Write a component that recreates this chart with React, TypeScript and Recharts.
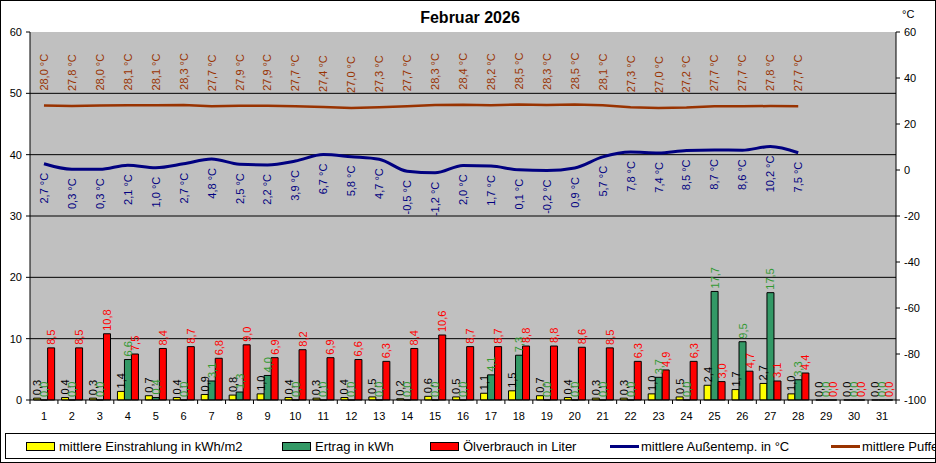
import React from "react";
import { ComposedChart, Bar, Line, XAxis, YAxis, CartesianGrid, LabelList } from "recharts";

const days = ["1", "2", "3", "4", "5", "6", "7", "8", "9", "10", "11", "12", "13", "14", "15", "16", "17", "18", "19", "20", "21", "22", "23", "24", "25", "26", "27", "28", "29", "30", "31"];

const einstrahlung = [0.3, 0.4, 0.3, 1.4, 0.7, 0.4, 0.9, 0.8, 1.0, 0.4, 0.3, 0.4, 0.5, 0.2, 0.6, 0.5, 1.1, 1.5, 0.7, 0.4, 0.3, 0.3, 1.0, 0.5, 2.4, 1.7, 2.7, 1.0, 0.0, 0.0, 0.0];
const ertrag = [0.0, 0.0, 0.0, 6.6, 0.4, 0.0, 3.1, 1.3, 4.0, 0.0, 0.0, 0.0, 0.0, 0.0, 0.0, 0.0, 4.1, 7.3, 0.0, 0.0, 0.0, 0.0, 3.7, 0.0, 17.7, 9.5, 17.5, 3.3, 0.0, 0.0, 0.0];
const oelverbrauch = [8.5, 8.5, 10.8, 7.5, 8.4, 8.7, 6.8, 9.0, 6.9, 8.2, 6.9, 6.6, 6.3, 8.4, 10.6, 8.7, 8.7, 8.8, 8.8, 8.6, 8.5, 6.3, 4.9, 6.3, 3.0, 4.7, 3.1, 4.4, 0.0, 0.0, 0.0];
const aussentemp = [2.7, 0.3, 0.3, 2.1, 1.0, 2.7, 4.8, 2.5, 2.2, 3.9, 6.7, 5.8, 4.7, -0.5, -1.2, 2.0, 1.7, 0.1, -0.2, 0.9, 5.7, 7.8, 7.4, 8.5, 8.7, 8.6, 10.2, 7.5, null, null, null];
const puffertemp = [28.0, 27.8, 28.0, 28.1, 28.1, 28.3, 27.7, 27.9, 27.9, 27.7, 27.4, 27.0, 27.3, 27.7, 28.3, 28.4, 28.2, 28.5, 28.3, 28.5, 28.1, 27.3, 27.0, 27.2, 27.7, 27.7, 27.8, 27.7, null, null, null];

const leftTicks = [0, 10, 20, 30, 40, 50, 60];
const rightTicks = [-100, -80, -60, -40, -20, 0, 20, 40, 60];

const data = days.map((day, i) => ({
  day,
  einstrahlung: einstrahlung[i],
  ertrag: ertrag[i],
  oel: oelverbrauch[i],
  aussen: aussentemp[i],
  puffer: puffertemp[i],
}));

const FONT = "'Liberation Sans', Arial, sans-serif";
const PLOT_LEFT = 30;
const PLOT_RIGHT = 896;
const BAND = (PLOT_RIGHT - PLOT_LEFT) / days.length;

const fmt = (v: number) => v.toFixed(1).replace(".", ",");

const barLabel = (color: string) => (props: any) => {
  const { x, y, width, height, value } = props;
  if (value == null) return null;
  const cx = Number(x) + Number(width) / 2;
  const top = Math.min(Number(y), Number(y) + Number(height || 0));
  const ay = top - 3;
  return (
    <text x={cx} y={ay} transform={`rotate(-90 ${cx} ${ay})`} fill={color} fontSize={11} fontFamily={FONT} textAnchor="start" dominantBaseline="central">
      {fmt(Number(value))}
    </text>
  );
};

const lineLabel = (color: string, above: boolean) => (props: any) => {
  const { x, y, value } = props;
  if (value == null) return null;
  const cx = Number(x);
  const ay = above ? Number(y) - 15 : Number(y) + 9;
  return (
    <text x={cx} y={ay} transform={`rotate(-90 ${cx} ${ay})`} fill={color} fontSize={11} fontFamily={FONT} textAnchor={above ? "start" : "end"} dominantBaseline="central">
      {fmt(Number(value)) + " °C"}
    </text>
  );
};

const DayTick = (props: any) => {
  const { x, y, payload, index } = props;
  const left = x - BAND / 2;
  return (
    <g>
      <line x1={left} y1={y} x2={left} y2={y + 4} stroke="#000" />
      {index === days.length - 1 && <line x1={left + BAND} y1={y} x2={left + BAND} y2={y + 4} stroke="#000" />}
      <text x={x} y={y + 20} textAnchor="middle" fontSize={11} fontFamily={FONT} fill="#000">
        {payload.value}
      </text>
    </g>
  );
};

const legendItems = [
  { label: "mittlere Einstrahlung in kWh/m2", color: "#ffff00", kind: "box", x: 26 },
  { label: "Ertrag in kWh", color: "#339966", kind: "box", x: 282 },
  { label: "Ölverbrauch in Liter", color: "#ff0000", kind: "box", x: 430 },
  { label: "mittlere Außentemp. in °C", color: "#000080", kind: "line", x: 610 },
  { label: "mittlere Puffertemp. in °C", color: "#993300", kind: "line", x: 831 },
];

export default function App() {
  return (
    <div style={{ position: "absolute", left: 0, top: 0, width: 936, height: 463, background: "#fff", overflow: "hidden", fontFamily: FONT }}>
      <div style={{ position: "absolute", left: 0, top: 9, width: 936, textAlign: "center", fontWeight: "bold", fontSize: 16, paddingLeft: 2 }}>
        Februar 2026
      </div>
      <div style={{ position: "absolute", left: 902, top: 8, fontSize: 11 }}>°C</div>

      <ComposedChart width={936} height={432} data={data} margin={{ top: 32, right: 0, bottom: 0, left: 0 }} barCategoryGap="13%" barGap={0}>
        <CartesianGrid yAxisId="left" vertical={false} horizontalValues={[10, 20, 30, 40, 50]} stroke="#000" strokeOpacity={1} fill="#c0c0c0" fillOpacity={1} />
        <XAxis dataKey="day" height={32} axisLine={{ stroke: "#000" }} tickLine={false} tickSize={0} tickMargin={0} interval={0} tick={<DayTick />} />
        <YAxis yAxisId="left" width={30} domain={[0, 60]} ticks={leftTicks} interval={0} axisLine={{ stroke: "#000" }} tickLine={{ stroke: "#000" }} tickSize={4} tickMargin={4} tick={{ fill: "#000", fontSize: 11, fontFamily: FONT }} />
        <YAxis yAxisId="right" orientation="right" width={40} domain={[-100, 60]} ticks={rightTicks} interval={0} axisLine={{ stroke: "#000" }} tickLine={{ stroke: "#000" }} tickSize={4} tickMargin={4} tick={{ fill: "#000", fontSize: 11, fontFamily: FONT, textAnchor: "start" }} />

        <Bar yAxisId="left" dataKey="einstrahlung" fill="#ffff00" stroke="#000" strokeWidth={1} minPointSize={0.01} isAnimationActive={false}>
          <LabelList dataKey="einstrahlung" content={barLabel("#000")} />
        </Bar>
        <Bar yAxisId="left" dataKey="ertrag" fill="#339966" stroke="#000" strokeWidth={1} minPointSize={0.01} isAnimationActive={false}>
          <LabelList dataKey="ertrag" content={barLabel("#339933")} />
        </Bar>
        <Bar yAxisId="left" dataKey="oel" fill="#ff0000" stroke="#000" strokeWidth={1} minPointSize={0.01} isAnimationActive={false}>
          <LabelList dataKey="oel" content={barLabel("#ff0000")} />
        </Bar>

        <Line yAxisId="right" type="monotone" dataKey="aussen" stroke="#000080" strokeWidth={3} dot={false} isAnimationActive={false}>
          <LabelList dataKey="aussen" content={lineLabel("#000080", false)} />
        </Line>
        <Line yAxisId="right" type="linear" dataKey="puffer" stroke="#993300" strokeWidth={2.5} dot={false} isAnimationActive={false}>
          <LabelList dataKey="puffer" content={lineLabel("#993300", true)} />
        </Line>
      </ComposedChart>

      <div style={{ position: "absolute", left: 5, top: 433, width: 1000, height: 26, border: "1px solid #000", boxSizing: "border-box" }}>
        {legendItems.map((item) => (
          <div key={item.label} style={{ position: "absolute", left: item.x - 6, top: 0, height: 24, display: "flex", alignItems: "center", whiteSpace: "nowrap", fontSize: 13 }}>
            {item.kind === "box" ? (
              <span style={{ display: "inline-block", width: 27, height: 7, background: item.color, border: "1px solid #000", marginRight: 4 }} />
            ) : (
              <span style={{ display: "inline-block", width: 29, height: 3, background: item.color, marginRight: 2 }} />
            )}
            {item.label}
          </div>
        ))}
      </div>

      <div style={{ position: "absolute", left: 0, top: 0, width: 936, height: 463, border: "1px solid #000", boxSizing: "border-box", pointerEvents: "none" }} />
    </div>
  );
}
